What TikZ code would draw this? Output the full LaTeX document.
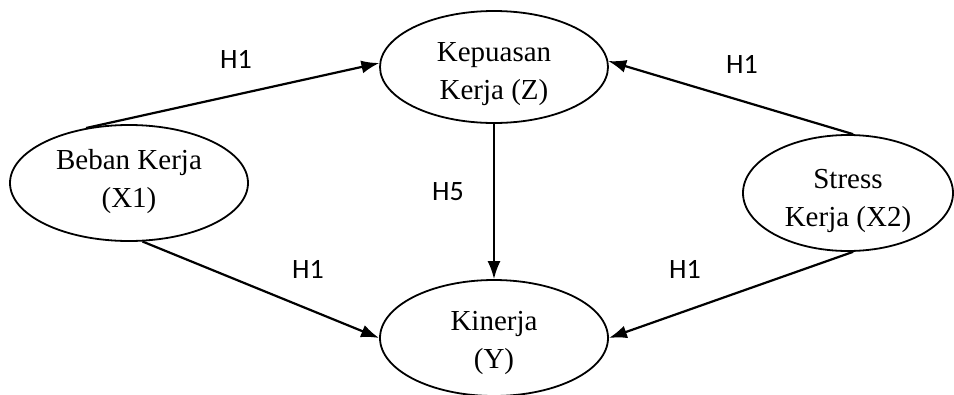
\documentclass[tikz,border=0pt]{standalone}
\usepackage{fontspec}
\setmainfont{Liberation Serif}
\newfontfamily\labelfont{Carlito}
\usetikzlibrary{shapes.geometric, arrows.meta}

\tikzset{
  construct/.style = {ellipse, draw, line width=1.8pt, inner sep=0pt},
  inside/.style    = {align=center, inner sep=0pt, font=\fontsize{29}{38}\selectfont},
  hypo/.style      = {font=\labelfont\fontsize{28}{30}\selectfont, inner sep=0pt},
  path/.style      = {line width=2.2pt, -{Latex[length=18pt,width=13pt]}}
}

\begin{document}
\begin{tikzpicture}[x=1pt, y=-1pt]
	\useasboundingbox (0,0) rectangle (954,394);
	% constructs
	\node[construct, minimum width=228pt, minimum height=112pt,
	      label={[inside, yshift=-7pt]center:Kepuasan\\Kerja (Z)}] (kepuasan) at (494,67) {};
	\node[construct, minimum width=238pt, minimum height=116pt,
	      label={[inside, yshift=1pt]center:Beban Kerja\\(X1)}] (beban) at (129,183) {};
	\node[construct, minimum width=210pt, minimum height=116pt,
	      label={[inside, yshift=-8pt]center:Stress\\Kerja (X2)}] (stress) at (848,193) {};
	\node[construct, minimum width=228pt, minimum height=116pt,
	      label={[inside, yshift=-5pt]center:Kinerja\\(Y)}] (kinerja) at (494,338) {};
	% hypotheses
	\draw[path] (beban.128) -- (kepuasan.178);
	\draw[path] (stress.85) -- (kepuasan.3);
	\draw[path] (kepuasan.south) -- (kinerja.north);
	\draw[path] (beban.283) -- (kinerja.west);
	\draw[path] (stress.275) -- (kinerja.east);
	% labels
	\node[hypo] (h1a) at (236,59) {H1};
	\node[hypo] (h1b) at (742,64) {H1};
	\node[hypo] (h5) at (448,192) {H5};
	\node[hypo] (h1c) at (308,269) {H1};
	\node[hypo] (h1d) at (685,269) {H1};
\end{tikzpicture}
\end{document}
